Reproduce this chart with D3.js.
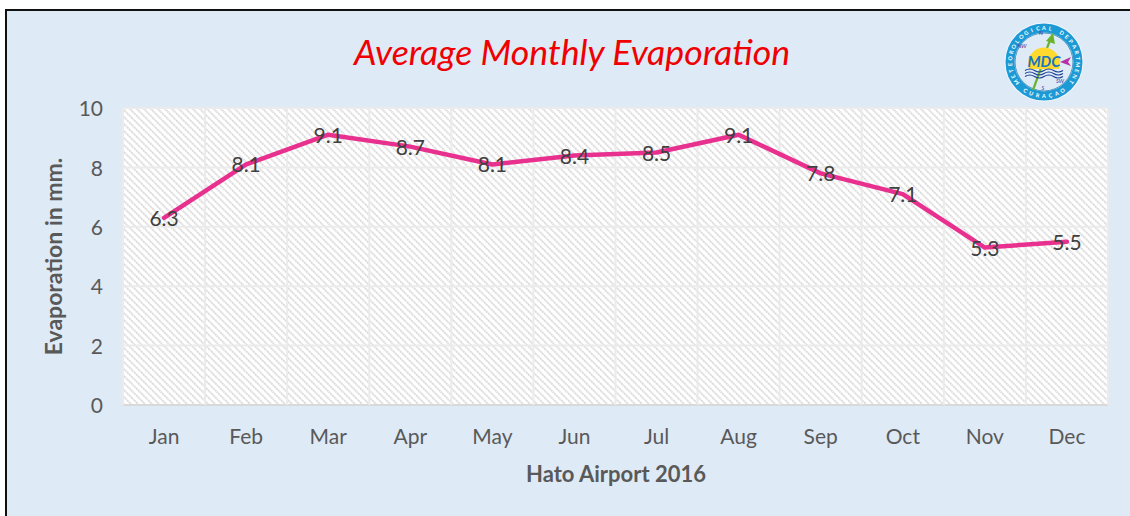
<!DOCTYPE html>
<html>
<head>
<meta charset="utf-8">
<script src="https://cdn.jsdelivr.net/npm/d3@7"></script>
<style>
  html, body { margin: 0; padding: 0; background: #fff; }
  svg { display: block; }
  text { font-family: Lato, "Open Sans", sans-serif; }
</style>
</head>
<body>
<div id="chart"></div>
<script>
var months = ['Jan', 'Feb', 'Mar', 'Apr', 'May', 'Jun', 'Jul', 'Aug', 'Sep', 'Oct', 'Nov', 'Dec'];
var evaporation = [6.3, 8.1, 9.1, 8.7, 8.1, 8.4, 8.5, 9.1, 7.8, 7.1, 5.3, 5.5];
var yTicks = [0, 2, 4, 6, 8, 10];

var config = { width: 1130, height: 516 };
var plotArea = { left: 123, right: 1108, top: 108, bottom: 405 };

var svg = d3.select('#chart').append('svg')
  .attr('width', config.width)
  .attr('height', config.height);

// Diagonal hatch of the plot background.
var pattern = svg.append('defs').append('pattern')
  .attr('id', 'hatch')
  .attr('width', 7)
  .attr('height', 7)
  .attr('patternUnits', 'userSpaceOnUse');
pattern.append('rect').attr('width', 7).attr('height', 7).attr('fill', '#fff');
pattern.append('path')
  .attr('d', 'M-1,-1L8,8M-1,6L1,8M6,-1L8,1')
  .attr('stroke', '#dcdcdc')
  .attr('stroke-width', 1.8)
  .attr('stroke-dasharray', '2.2 0.6');

// Panel and its black frame.
svg.append('rect')
  .attr('x', 6).attr('y', 10)
  .attr('width', 1124).attr('height', 506)
  .attr('fill', '#deeaf6');
svg.append('path')
  .attr('d', 'M6,516V10H1130')
  .attr('fill', 'none')
  .attr('stroke', '#111')
  .attr('stroke-width', 2);

svg.append('text')
  .text('Average Monthly Evaporation')
  .attr('x', 572).attr('y', 65)
  .attr('text-anchor', 'middle')
  .attr('fill', '#f00000')
  .style('font-size', '35.7px')
  .style('font-style', 'italic');

var x = d3.scaleBand()
  .domain(months)
  .range([plotArea.left, plotArea.right]);

var y = d3.scaleLinear()
  .domain([0, 10])
  .range([plotArea.bottom, plotArea.top]);

svg.append('rect')
  .attr('x', plotArea.left).attr('y', plotArea.top)
  .attr('width', plotArea.right - plotArea.left)
  .attr('height', plotArea.bottom - plotArea.top)
  .attr('fill', 'url(#hatch)');

// Gridlines, horizontal and vertical.
svg.append('g').selectAll('line').data(yTicks).enter()
  .append('line')
    .attr('x1', plotArea.left).attr('x2', plotArea.right)
    .attr('y1', function(d) { return y(d); })
    .attr('y2', function(d) { return y(d); })
    .attr('stroke', function(d) { return d === 0 ? '#d9d9d9' : '#ebebeb'; })
    .attr('stroke-width', 2);

svg.append('g').selectAll('line').data(months.concat(['end'])).enter()
  .append('line')
    .attr('x1', function(d, i) { return plotArea.left + i * x.step(); })
    .attr('x2', function(d, i) { return plotArea.left + i * x.step(); })
    .attr('y1', plotArea.top).attr('y2', plotArea.bottom)
    .attr('stroke', '#ebebeb')
    .attr('stroke-width', 2);

// Axes, only the labels are visible.
var xAxis = svg.append('g')
  .attr('transform', 'translate(0,' + plotArea.bottom + ')')
  .call(d3.axisBottom(x).tickSize(0).tickPadding(24));
var yAxis = svg.append('g')
  .attr('transform', 'translate(' + plotArea.left + ',1)')
  .call(d3.axisLeft(y).tickValues(yTicks).tickSize(0).tickPadding(20));
xAxis.select('.domain').remove();
yAxis.select('.domain').remove();
xAxis.selectAll('text')
  .attr('fill', '#595959')
  .style('font-family', 'Lato, sans-serif')
  .style('font-size', '21px');
yAxis.selectAll('text')
  .attr('fill', '#595959')
  .style('font-family', 'Lato, sans-serif')
  .style('font-size', '21px');

svg.append('text')
  .text('Hato Airport 2016')
  .attr('x', 616).attr('y', 482)
  .attr('text-anchor', 'middle')
  .attr('fill', '#595959')
  .style('font-size', '22px')
  .style('font-weight', 'bold');

svg.append('text')
  .text('Evaporation in mm.')
  .attr('transform', 'translate(62,256.5) rotate(-90)')
  .attr('text-anchor', 'middle')
  .attr('fill', '#595959')
  .style('font-size', '23px')
  .style('font-weight', 'bold');

var line = d3.line()
  .x(function(d, i) { return x(months[i]) + x.bandwidth() / 2; })
  .y(function(d) { return y(d); });

svg.append('path')
  .datum(evaporation)
  .attr('d', line)
  .attr('fill', 'none')
  .attr('stroke', '#e8308f')
  .attr('stroke-width', 4.5)
  .attr('stroke-linejoin', 'round')
  .attr('stroke-linecap', 'round');

svg.append('g').selectAll('text').data(evaporation).enter()
  .append('text')
    .text(function(d) { return d.toFixed(1); })
    .attr('x', function(d, i) { return x(months[i]) + x.bandwidth() / 2; })
    .attr('y', function(d) { return y(d) + 8; })
    .attr('text-anchor', 'middle')
    .attr('fill', '#404040')
    .style('font-size', '21px');

// Department logo, top right.
var logo = svg.append('g').attr('transform', 'translate(1044,62)');
logo.append('circle').attr('r', 39.5).attr('fill', '#f4f8fb');
logo.append('circle').attr('r', 34).attr('fill', 'none').attr('stroke', '#1b9ad6').attr('stroke-width', 9);
logo.append('circle').attr('r', 29).attr('fill', '#deeaf6').attr('stroke', '#0d6fa8').attr('stroke-width', 0.7);
logo.append('path').attr('d', 'M-11,28L-3,6').attr('stroke', '#6ab42d').attr('stroke-width', 2.2);
logo.append('path').attr('d', 'M3,-14L7,-24').attr('stroke', '#6ab42d').attr('stroke-width', 2.2);
logo.append('path').attr('d', 'M9,-29L2,-21L11,-18Z').attr('fill', '#6ab42d');
logo.append('path').attr('d', 'M-15,7A16,16 0 1 1 15,7Z').attr('fill', '#ffd92e');
logo.append('path').attr('d', 'M16,0L27,-5L24,0L27,4Z').attr('fill', '#b62fa8');
[8.5, 11.5, 14.5].forEach(function(dy) {
  logo.append('path')
    .attr('d', 'M-19,' + dy + 'q4.7,-3 9.5,0t9.5,0t9.5,0t9.5,0')
    .attr('fill', 'none')
    .attr('stroke', '#1b3f94')
    .attr('stroke-width', 1.1);
});
logo.append('text')
  .text('MDC')
  .attr('x', 0).attr('y', 5)
  .attr('text-anchor', 'middle')
  .attr('fill', '#1576c4')
  .style('font-size', '15px')
  .style('font-style', 'italic')
  .style('font-weight', 'bold');

// Ring lettering is placed letter by letter round the circle.
function ringText(str, midAngle, step, bottom) {
  str.split('').forEach(function(ch, i) {
    var a = midAngle + (i - (str.length - 1) / 2) * step;
    var r = bottom ? 36 : 32;
    var px = r * Math.sin(a * Math.PI / 180);
    var py = -r * Math.cos(a * Math.PI / 180);
    logo.append('text')
      .text(ch)
      .attr('transform', 'translate(' + px + ',' + py + ') rotate(' + (bottom ? a - 180 : a) + ')')
      .attr('text-anchor', 'middle')
      .attr('fill', '#fff')
      .style('font-size', '5.5px')
      .style('font-weight', 'bold');
  });
}
ringText('METEOROLOGICAL DEPARTMENT', 0, 10.5, false);
ringText('CURAÇAO', 180, -11, true);

[['N', -3, -27], ['NW', -22, -14], ['SW', 16, 21], ['S', -1, 28]].forEach(function(c) {
  logo.append('text')
    .text(c[0])
    .attr('x', c[1]).attr('y', c[2])
    .attr('text-anchor', 'middle')
    .attr('fill', '#4b2d8f')
    .style('font-size', '5.5px')
    .style('font-style', 'italic');
});
</script>
</body>
</html>
